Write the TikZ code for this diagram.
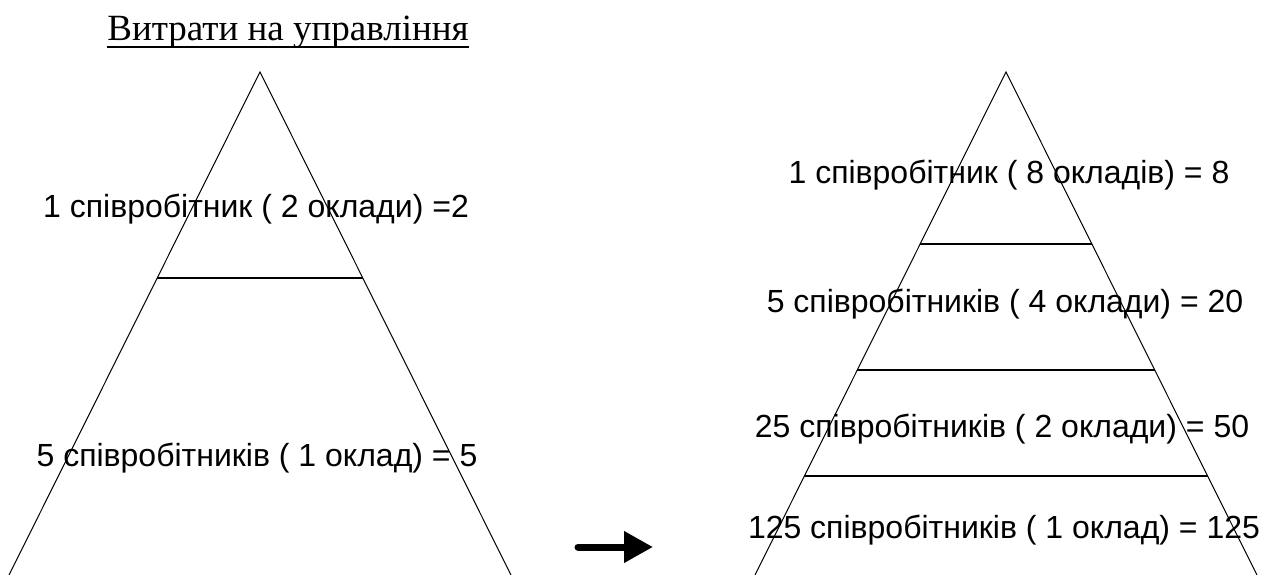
\documentclass[tikz,border=0pt]{standalone}
\usepackage{fontspec}
\setmainfont{Liberation Sans}
\newfontfamily\titlefont{Liberation Serif}
\usetikzlibrary{arrows.meta}
\tikzset{
  side/.style={line width=1pt},
  sep/.style={line width=1.8pt},
  lbl/.style={anchor=base, inner sep=0pt, font=\fontsize{32}{38}\selectfont},
  ttl/.style={anchor=base, inner sep=0pt, font=\titlefont\fontsize{37}{44}\selectfont},
  bigarrow/.style={line width=7pt, line cap=round, -{Triangle[length=29pt,width=30pt]}}
}
\begin{document}
\begin{tikzpicture}[x=1pt,y=-1pt]
\useasboundingbox (0,0) rectangle (1275,575);
% title
\node[ttl] (title) at (288,41) {Витрати на управління};
\draw[line width=2pt] ([yshift=-6pt]title.base west) -- ([yshift=-6pt]title.base east);
% left triangle
\coordinate (LA) at (260,72);
\coordinate (LL) at (9,575);
\coordinate (LR) at (511,575);
\draw[side] (LL) -- (LA) -- (LR);
\coordinate (L1a) at (157,278);
\coordinate (L1b) at (363,278);
\draw[sep] (L1a) -- (L1b);
\node[lbl] (lt1) at (256,217) {1 співробітник ( 2 оклади) =2};
\node[lbl] (lt2) at (257,466) {5 співробітників ( 1 оклад) = 5};
% arrow
\coordinate (AS) at (578,547);
\coordinate (AE) at (653,547);
\draw[bigarrow] (AS) -- (AE);
% right triangle
\coordinate (RA) at (1006,72);
\coordinate (RL) at (755,575);
\coordinate (RR) at (1257,575);
\draw[side] (RL) -- (RA) -- (RR);
\coordinate (R1a) at (920,244);
\coordinate (R1b) at (1092,244);
\coordinate (R2a) at (857,370);
\coordinate (R2b) at (1155,370);
\coordinate (R3a) at (804,476);
\coordinate (R3b) at (1208,476);
\draw[sep] (R1a) -- (R1b);
\draw[sep] (R2a) -- (R2b);
\draw[sep] (R3a) -- (R3b);
\node[lbl] (rt1) at (1009,183) {1 співробітник ( 8 окладів) = 8};
\node[lbl] (rt2) at (1005,312) {5 співробітників ( 4 оклади) = 20};
\node[lbl] (rt3) at (1002,437) {25 співробітників ( 2 оклади) = 50};
\node[lbl] (rt4) at (1004,538) {125 співробітників ( 1 оклад) = 125};
\end{tikzpicture}
\end{document}
